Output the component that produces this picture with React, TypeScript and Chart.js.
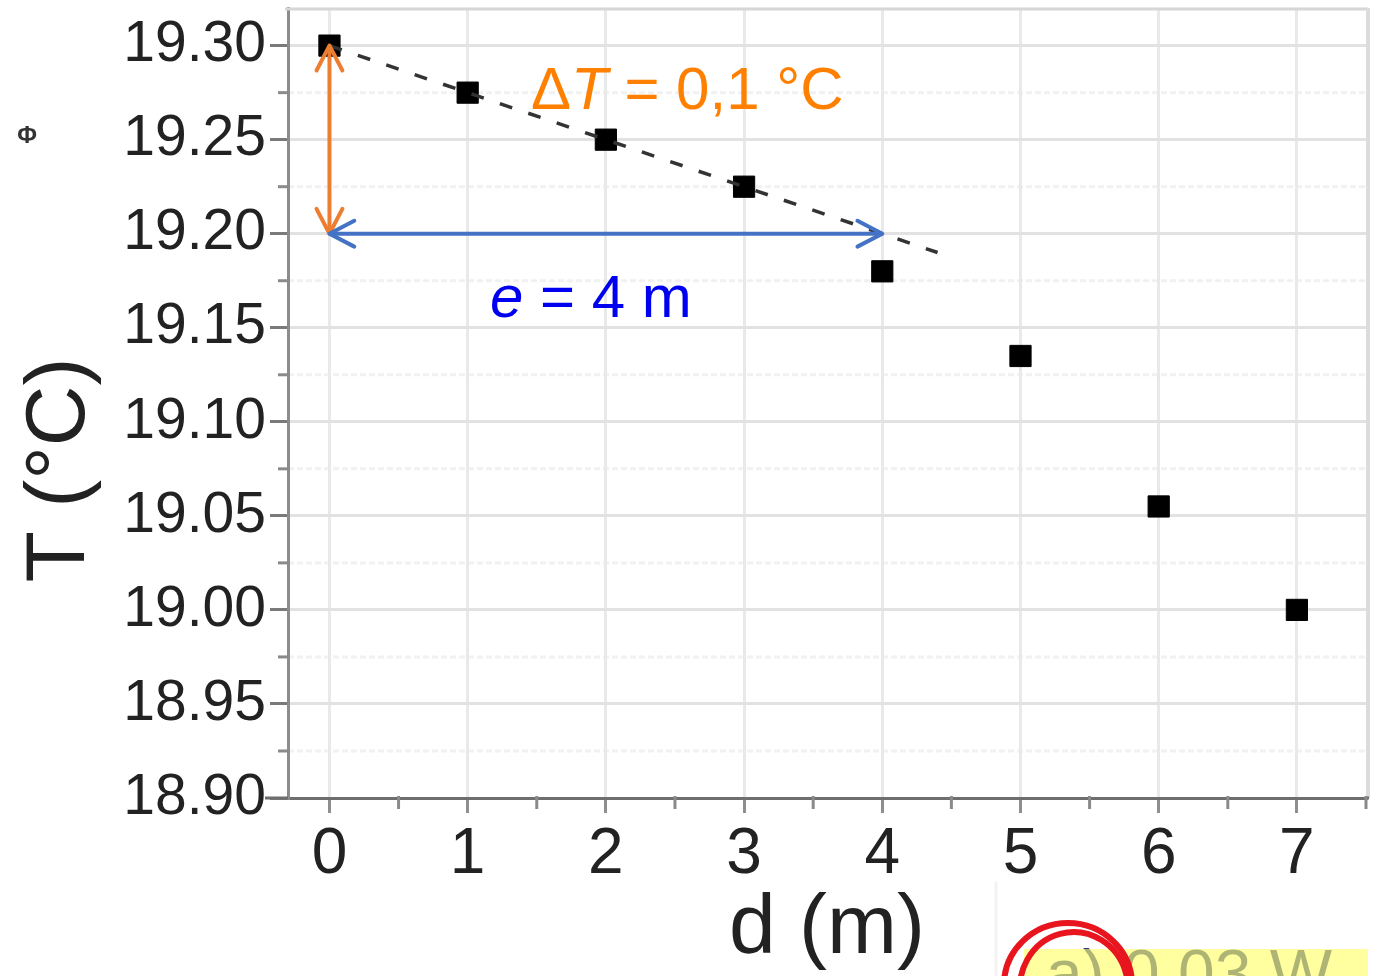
import { useEffect, useRef } from "react";
import { Chart, registerables } from "chart.js";

Chart.register(...registerables);

// ---- Data ----
const distances = [0, 1, 2, 3, 4, 5, 6, 7];
const temperatures = [19.3, 19.275, 19.25, 19.225, 19.18, 19.135, 19.055, 19.0];

const fitX = [0, 4.4];
const fitY = [19.3, 19.19];

const deltaTArrowX = [0, 0];
const deltaTArrowY = [19.3, 19.2];

const eArrowX = [0, 4];
const eArrowY = [19.2, 19.2];

const yMinorTicks = [18.925, 18.975, 19.025, 19.075, 19.125, 19.175, 19.225, 19.275];
const xMinorTicks = [0.5, 1.5, 2.5, 3.5, 4.5, 5.5, 6.5, 7.5];

const xAxisTitle = "d (m)";
const yAxisTitle = "T (°C)";
const deltaTLabel = ["Δ", "T", " = 0,1 °C"];
const eLabel = ["e", " = 4 m"];
const answerLabel = "a) 0,03 W";
const sideSymbol = "Φ";

const FONT = "'Liberation Sans', Arial, sans-serif";

const toPoints = (xs: number[], ys: number[]) => xs.map((x, i) => ({ x, y: ys[i] }));

const decorPlugin = {
  id: "decor",
  beforeDraw(chart: any) {
    const { ctx, chartArea, scales } = chart;
    const ys = scales.y;
    ctx.save();
    ctx.strokeStyle = "#f1f1f1";
    ctx.lineWidth = 3;
    ctx.setLineDash([6, 3]);
    yMinorTicks.forEach((v) => {
      const py = ys.getPixelForValue(v);
      ctx.beginPath();
      ctx.moveTo(chartArea.left, py);
      ctx.lineTo(chartArea.right, py);
      ctx.stroke();
    });
    ctx.restore();
  },
  beforeDatasetsDraw(chart: any) {
    const { ctx, chartArea } = chart;
    ctx.save();
    ctx.strokeStyle = "#d6d6d6";
    ctx.lineWidth = 3;
    ctx.beginPath();
    ctx.moveTo(chartArea.left - 3, chartArea.top + 1);
    ctx.lineTo(chartArea.right + 2, chartArea.top + 1);
    ctx.stroke();
    ctx.strokeStyle = "#dcdcdc";
    ctx.lineWidth = 4;
    ctx.beginPath();
    ctx.moveTo(chartArea.right + 2, chartArea.top);
    ctx.lineTo(chartArea.right + 2, chartArea.bottom);
    ctx.stroke();
    ctx.restore();
  },
  afterDraw(chart: any) {
    const { ctx, chartArea, scales } = chart;
    const xs = scales.x;
    const ys = scales.y;
    ctx.save();

    ctx.strokeStyle = "#6e6e6e";
    ctx.lineWidth = 3;
    ctx.beginPath();
    ctx.moveTo(265, chartArea.bottom);
    ctx.lineTo(chartArea.left, chartArea.bottom);
    ctx.moveTo(chartArea.right, chartArea.bottom);
    ctx.lineTo(chartArea.right + 3, chartArea.bottom);
    ctx.stroke();

    ctx.strokeStyle = "#8a8a8a";
    ctx.lineWidth = 3;
    yMinorTicks.forEach((v) => {
      const py = ys.getPixelForValue(v);
      ctx.beginPath();
      ctx.moveTo(chartArea.left - 10, py);
      ctx.lineTo(chartArea.left, py);
      ctx.stroke();
    });
    xMinorTicks.forEach((v) => {
      const px = xs.getPixelForValue(v);
      ctx.beginPath();
      ctx.moveTo(px, chartArea.bottom - 2);
      ctx.lineTo(px, chartArea.bottom + 11);
      ctx.stroke();
    });

    ctx.fillStyle = "#222";
    ctx.font = `84px ${FONT}`;
    ctx.textAlign = "center";
    ctx.textBaseline = "middle";
    ctx.save();
    ctx.translate(61, 470);
    ctx.rotate(-Math.PI / 2);
    ctx.fillText(yAxisTitle, 0, 0);
    ctx.restore();

    ctx.font = `bold 24px ${FONT}`;
    ctx.fillStyle = "#333";
    ctx.fillText(sideSymbol, 27, 136);

    ctx.textAlign = "left";
    ctx.textBaseline = "alphabetic";
    const drawRich = (parts: string[], italic: boolean[], x: number, y: number, color: string, size: number) => {
      ctx.fillStyle = color;
      let cx = x;
      parts.forEach((p, i) => {
        ctx.font = `${italic[i] ? "italic " : ""}${size}px ${FONT}`;
        ctx.fillText(p, cx, y);
        cx += ctx.measureText(p).width;
      });
    };
    drawRich(deltaTLabel, [false, true, false], 531, 109, "#FF8000", 60);
    drawRich(eLabel, [true, false], 490, 317, "#0000F0", 60);

    ctx.strokeStyle = "#f2f2f2";
    ctx.lineWidth = 3;
    ctx.beginPath();
    ctx.moveTo(996, 882);
    ctx.lineTo(996, 976);
    ctx.stroke();

    ctx.font = `66px ${FONT}`;
    ctx.fillStyle = "#2c3a8a";
    ctx.fillText(answerLabel, 1046, 996);
    ctx.globalAlpha = 0.62;
    ctx.fillStyle = "#ffff66";
    ctx.fillRect(1024, 949, 344, 30);
    ctx.globalAlpha = 1;

    ctx.strokeStyle = "#E8141E";
    ctx.lineWidth = 6;
    ctx.beginPath();
    ctx.ellipse(1068, 985, 64, 62, 0, Math.PI, 2 * Math.PI);
    ctx.stroke();
    ctx.beginPath();
    ctx.ellipse(1074, 988, 54, 56, -0.1, Math.PI * 0.95, 2 * Math.PI);
    ctx.stroke();

    ctx.restore();
  },
};

const arrowPlugin = {
  id: "arrowHeads",
  afterDatasetsDraw(chart: any) {
    const { ctx } = chart;
    chart.data.datasets.forEach((ds: any, i: number) => {
      if (!ds.arrowHeads) return;
      const meta = chart.getDatasetMeta(i);
      const pts = meta.data;
      if (pts.length < 2) return;
      const a = pts[0];
      const b = pts[pts.length - 1];
      const ang = Math.atan2(b.y - a.y, b.x - a.x);
      const len = 28;
      const spread = 0.48;
      ctx.save();
      ctx.strokeStyle = ds.borderColor;
      ctx.lineWidth = ds.borderWidth;
      ctx.lineCap = "round";
      ctx.lineJoin = "round";
      const head = (px: number, py: number, dir: number) => {
        ctx.beginPath();
        ctx.moveTo(px + len * Math.cos(dir + spread), py + len * Math.sin(dir + spread));
        ctx.lineTo(px, py);
        ctx.lineTo(px + len * Math.cos(dir - spread), py + len * Math.sin(dir - spread));
        ctx.stroke();
      };
      head(a.x, a.y, ang);
      head(b.x, b.y, ang + Math.PI);
      ctx.restore();
    });
  },
};

export default function App() {
  const canvasRef = useRef<HTMLCanvasElement | null>(null);

  useEffect(() => {
    if (!canvasRef.current) return;
    const chart = new Chart(canvasRef.current, {
      type: "scatter",
      data: {
        datasets: [
          {
            label: "ΔT",
            type: "line",
            data: toPoints(deltaTArrowX, deltaTArrowY),
            borderColor: "#ED7D31",
            borderWidth: 4,
            pointRadius: 0,
            showLine: true,
            arrowHeads: true,
          } as any,
          {
            label: "e",
            type: "line",
            data: toPoints(eArrowX, eArrowY),
            borderColor: "#4472C4",
            borderWidth: 4,
            pointRadius: 0,
            showLine: true,
            arrowHeads: true,
          } as any,
          {
            label: "fit",
            type: "line",
            data: toPoints(fitX, fitY),
            borderColor: "#333",
            borderWidth: 3.5,
            borderDash: [13, 17],
            pointRadius: 0,
            showLine: true,
          } as any,
          {
            label: "T",
            data: toPoints(distances, temperatures),
            pointStyle: "rect",
            pointRadius: 15,
            backgroundColor: "#000",
            borderColor: "#000",
            borderWidth: 1,
          },
        ],
      },
      options: {
        animation: false,
        responsive: false,
        devicePixelRatio: 1,
        layout: { autoPadding: false, padding: { top: 8, right: 20, left: 0, bottom: 0 } },
        plugins: {
          legend: { display: false },
          tooltip: { enabled: false },
        },
        scales: {
          x: {
            type: "linear",
            min: -0.3,
            max: 7.5,
            afterFit: (s: any) => {
              s.height = 178;
              s.paddingLeft = 0;
              s.paddingRight = 0;
            },
            ticks: {
              stepSize: 1,
              includeBounds: false,
              color: "#222",
              font: { family: FONT, size: 64 },
              padding: 4,
              maxRotation: 0,
              callback: (v: any) => String(v),
            },
            grid: {
              color: "#e9e9e9",
              lineWidth: 3,
              tickLength: 15,
              tickWidth: 3,
              tickColor: "#8e8e8e",
            },
            border: { display: true, color: "#6e6e6e", width: 3 },
            title: {
              display: true,
              text: xAxisTitle,
              color: "#222",
              font: { family: FONT, size: 84 },
              padding: { top: 0, bottom: -4 },
            },
          },
          y: {
            type: "linear",
            min: 18.9,
            max: 19.32,
            afterFit: (s: any) => {
              s.width = 288;
              s.paddingTop = 0;
              s.paddingBottom = 0;
            },
            ticks: {
              stepSize: 0.05,
              includeBounds: false,
              color: "#222",
              font: { family: FONT, size: 57 },
              padding: 4,
              callback: (v: any) => Number(v).toFixed(2),
            },
            grid: {
              color: "#e2e2e2",
              lineWidth: 3,
              tickLength: 18,
              tickWidth: 3,
              tickColor: "#7a7a7a",
            },
            border: { display: true, color: "#8c8c8c", width: 3 },
          },
        },
      },
      plugins: [decorPlugin, arrowPlugin],
    } as any);
    return () => chart.destroy();
  }, []);

  return (
    <div style={{ position: "absolute", left: 0, top: 0, width: 1386, height: 976, background: "#fff" }}>
      <canvas ref={canvasRef} width={1386} height={976} />
    </div>
  );
}
